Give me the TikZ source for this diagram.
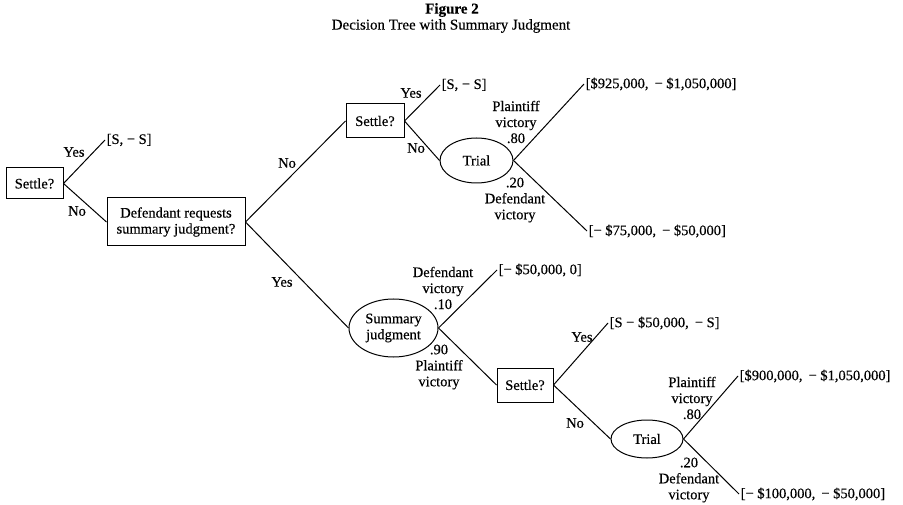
\documentclass[tikz,border=0pt]{standalone}
\usepackage{fontspec}
\setmainfont{Liberation Serif}[FakeBold=0.35]
\usetikzlibrary{shapes.geometric}
\begin{document}
\begin{tikzpicture}[x=1pt,y=-1pt,
  every node/.style={font=\fontsize{14.5}{16}\selectfont},
  box/.style={draw,line width=1pt,rectangle,inner sep=0pt,align=center},
  chance/.style={draw,line width=1pt,ellipse,inner sep=0pt,align=center},
  br/.style={line width=1pt},
  lbl/.style={inner sep=0pt,align=center},
  ttl/.style={inner sep=0pt,align=center,font=\fontsize{15}{16}\selectfont},
  leaf/.style={anchor=west,inner sep=1.5pt},
]
\useasboundingbox (0,0) rectangle (903,505);
% title
\node[ttl] (t1) at (452,10) {\bfseries Figure 2};
\node[ttl] (t2) at (451,26) {Decision Tree with Summary Judgment};
% decision / chance nodes
\node[box,minimum width=57pt,minimum height=31pt] (s1) at (34.5,183.5) {Settle?};
\node[box,minimum width=138pt,minimum height=48pt] (dr) at (176,222) {Defendant requests\\summary judgment?};
\node[box,minimum width=58pt,minimum height=34pt] (s2) at (375,121) {Settle?};
\node[chance,minimum width=73pt,minimum height=45pt] (tr1) at (476.5,160.5) {Trial};
\node[chance,minimum width=89pt,minimum height=58pt] (sj) at (393.5,328) {Summary\\judgment};
\node[box,minimum width=56pt,minimum height=34pt] (s3) at (525,385) {Settle?};
\node[chance,minimum width=72pt,minimum height=38pt] (tr2) at (647,439) {Trial};
% leaf end points
\coordinate (e1) at (105,140);
\coordinate (e2) at (440,85);
\coordinate (e3) at (584,84);
\coordinate (e4) at (587,231);
\coordinate (e5) at (497,270);
\coordinate (e6) at (608,323);
\coordinate (e7) at (738,376);
\coordinate (e8) at (739,494);
% leaves
\node[leaf] (l1) at (e1) {[S, − S]};
\node[leaf] (l2) at (e2) {[S, − S]};
\node[leaf] (l3) at (e3) {[\$925,000,\, − \$1,050,000]};
\node[leaf] (l4) at (e4) {[− \$75,000,\, − \$50,000]};
\node[leaf] (l5) at (e5) {[− \$50,000, 0]};
\node[leaf] (l6) at (e6) {[S − \$50,000,\, − S]};
\node[leaf] (l7) at (e7) {[\$900,000,\, − \$1,050,000]};
\node[leaf] (l8) at (e8) {[− \$100,000,\, − \$50,000]};
% branches
\draw[br] (s1.east) -- (e1);
\draw[br] (s1.east) -- (dr.west);
\draw[br] (dr.east) -- (s2.west);
\draw[br] (dr.east) -- (sj.west);
\draw[br] (s2.east) -- (e2);
\draw[br] (s2.east) -- (tr1.west);
\draw[br] (tr1.east) -- (e3);
\draw[br] (tr1.east) -- (e4);
\draw[br] (sj.east) -- (e5);
\draw[br] (sj.east) -- (s3.west);
\draw[br] (s3.east) -- (e6);
\draw[br] (s3.east) -- (tr2.west);
\draw[br] (tr2.east) -- (e7);
\draw[br] (tr2.east) -- (e8);
% branch labels
\node[lbl] (y1) at (74,152) {Yes};
\node[lbl] (n1) at (77,211) {No};
\node[lbl] (n2) at (287,163) {No};
\node[lbl] (y2) at (282,282) {Yes};
\node[lbl] (y3) at (411,93) {Yes};
\node[lbl] (n3) at (416,148) {No};
\node[lbl] (y4) at (582,337) {Yes};
\node[lbl] (n4) at (575,423) {No};
\node[lbl] (p1) at (516,122) {Plaintiff\\victory\\.80};
\node[lbl] (d1) at (515,200) {.20\\Defendant\\victory};
\node[lbl] (d2) at (443,288) {Defendant\\victory\\.10};
\node[lbl] (p2) at (439,367) {.90\\Plaintiff\\victory};
\node[lbl] (p3) at (692,398) {Plaintiff\\victory\\.80};
\node[lbl] (d3) at (689,480) {.20\hspace{22pt}\\Defendant\\victory};
\end{tikzpicture}
\end{document}
